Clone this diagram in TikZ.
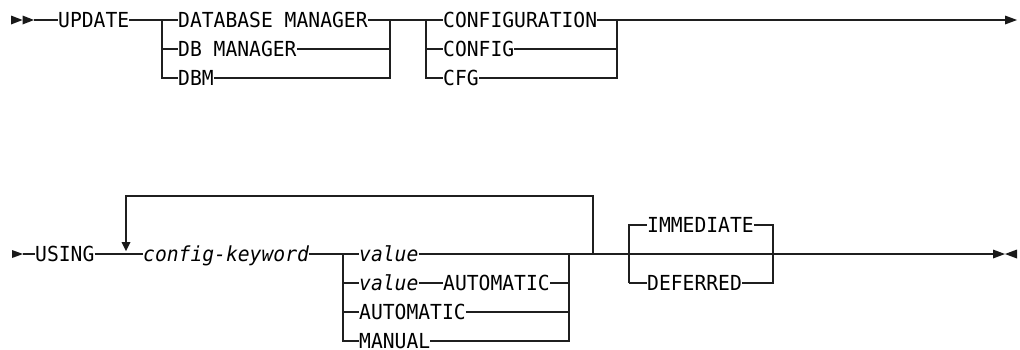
\documentclass[tikz,border=0pt]{standalone}
\usepackage{fontspec}
\setmonofont[FakeStretch=0.95]{DejaVu Sans Mono}
\begin{document}
\begin{tikzpicture}[x=1pt,y=-1pt,
  kw/.style={font=\ttfamily\fontsize{20.7}{21}\selectfont, inner sep=0pt, anchor=west, text height=15pt, text depth=0pt},
  varw/.style={kw, font=\ttfamily\itshape\fontsize{20.7}{21}\selectfont},
  rail/.style={line width=1.25pt, line cap=butt, color=black!88},
  tip/.style={fill=black!90, draw=none}]
\useasboundingbox (0,0) rectangle (1020,349);

% ---------- row 1 ----------
\fill[tip] (11,15.5) -- (22.5,20) -- (11,24.5) -- cycle;
\fill[tip] (22.5,15.5) -- (34,20) -- (22.5,24.5) -- cycle;
\coordinate (s1) at (34,20);
\node[kw] (update) at (58,20) {UPDATE};
\coordinate (b1l) at (162,20);
\coordinate (b1lb) at (162,49);
\coordinate (b1lc) at (162,78);
\node[kw] (dbmgr1) at (178,20) {DATABASE MANAGER};
\node[kw] (dbmgr2) at (178,49) {DB MANAGER};
\node[kw] (dbm) at (178,78) {DBM};
\coordinate (b1r) at (390,20);
\coordinate (b1rb) at (390,49);
\coordinate (b1rc) at (390,78);
\coordinate (b2l) at (426,20);
\coordinate (b2lb) at (426,49);
\coordinate (b2lc) at (426,78);
\node[kw] (cfg1) at (443,20) {CONFIGURATION};
\node[kw] (cfg2) at (443,49) {CONFIG};
\node[kw] (cfg3) at (443,78) {CFG};
\coordinate (b2r) at (617,20);
\coordinate (b2rb) at (617,49);
\coordinate (b2rc) at (617,78);
\coordinate (e1) at (1005,20);
\fill[tip] (1005,15.5) -- (1017,20) -- (1005,24.5) -- cycle;

\draw[rail] (s1) -- (update.west);
\draw[rail] (update.east) -- (b1l) -- (dbmgr1.west);
\draw[rail] (b1l) -- (b1lc) -- (dbm.west);
\draw[rail] (b1lb) -- (dbmgr2.west);
\draw[rail] (dbmgr1.east) -- (b1r) -- (b1rc) -- (dbm.east);
\draw[rail] (dbmgr2.east) -- (b1rb);
\draw[rail] (b1r) -- (b2l) -- (cfg1.west);
\draw[rail] (b2l) -- (b2lc) -- (cfg3.west);
\draw[rail] (b2lb) -- (cfg2.west);
\draw[rail] (cfg1.east) -- (b2r) -- (b2rc) -- (cfg3.east);
\draw[rail] (cfg2.east) -- (b2rb);
\draw[rail] (b2r) -- (e1);

% ---------- row 2 ----------
\fill[tip] (12,250) -- (23,254) -- (12,258) -- cycle;
\coordinate (s2) at (23,254);
\node[kw] (using) at (35,254) {USING};
\node[varw] (ckw) at (143,254) {config-keyword};
\coordinate (lpa) at (126,242);
\coordinate (lpt) at (126,196);
\coordinate (lptr) at (593,196);
\coordinate (lpr) at (593,254);
\fill[tip] (121.5,242) -- (130.5,242) -- (126,251) -- cycle;

\coordinate (v1) at (343,254);
\coordinate (v2) at (343,283);
\coordinate (v3) at (343,312);
\coordinate (v4) at (343,341);
\node[varw] (val1) at (359,254) {value};
\node[varw] (val2) at (359,283) {value};
\node[kw] (auto2) at (443,283) {AUTOMATIC};
\node[kw] (auto3) at (359,312) {AUTOMATIC};
\node[kw] (manual) at (359,341) {MANUAL};
\coordinate (w1) at (569,254);
\coordinate (w2) at (569,283);
\coordinate (w3) at (569,312);
\coordinate (w4) at (569,341);

\coordinate (d1) at (629,254);
\coordinate (d0) at (629,225);
\coordinate (d2) at (629,283);
\node[kw] (imm) at (647,225) {IMMEDIATE};
\node[kw] (def) at (647,283) {DEFERRED};
\coordinate (f0) at (773,225);
\coordinate (f1) at (773,254);
\coordinate (f2) at (773,283);
\coordinate (e2) at (993,254);
\fill[tip] (993,249.5) -- (1005,254) -- (993,258.5) -- cycle;
\fill[tip] (1017,249.5) -- (1005,254) -- (1017,258.5) -- cycle;

\draw[rail] (s2) -- (using.west);
\draw[rail] (using.east) -- (ckw.west);
\draw[rail] (lpa) -- (lpt) -- (lptr) -- (lpr);
\draw[rail] (ckw.east) -- (v1) -- (val1.west);
\draw[rail] (v1) -- (v4) -- (manual.west);
\draw[rail] (v2) -- (val2.west);
\draw[rail] (v3) -- (auto3.west);
\draw[rail] (val2.east) -- (auto2.west);
\draw[rail] (val1.east) -- (w1) -- (lpr) -- (d1) -- (f1) -- (e2);
\draw[rail] (w1) -- (w4) -- (manual.east);
\draw[rail] (auto2.east) -- (w2);
\draw[rail] (auto3.east) -- (w3);
\draw[rail] (d2) -- (d0) -- (imm.west);
\draw[rail] (d2) -- (def.west);
\draw[rail] (imm.east) -- (f0) -- (f2) -- (def.east);
\end{tikzpicture}
\end{document}
